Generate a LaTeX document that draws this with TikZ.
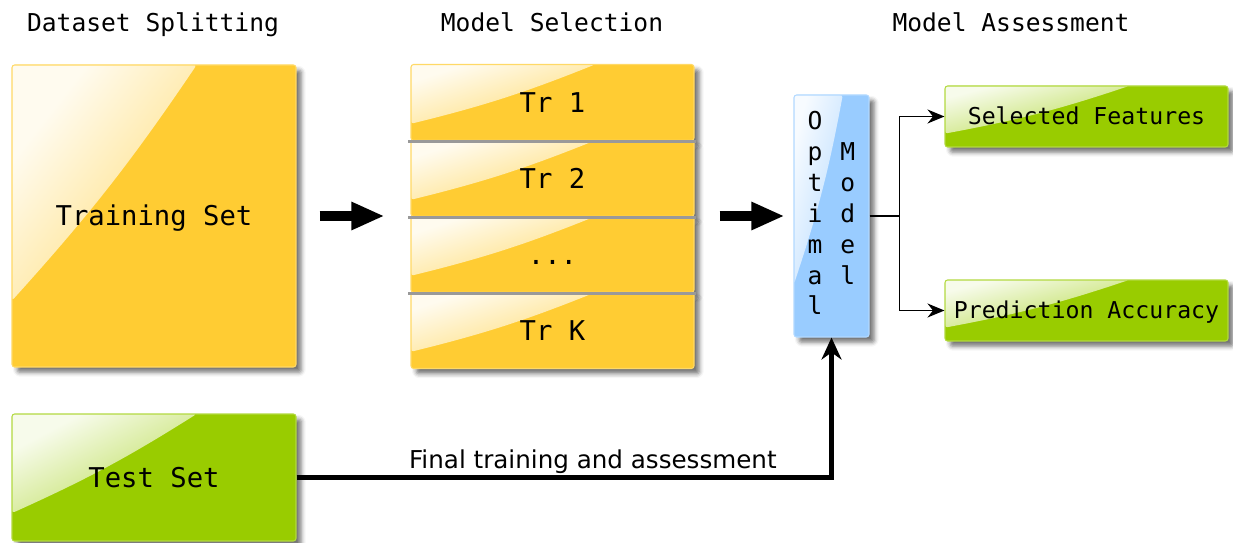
\documentclass[tikz,border=0pt]{standalone}
\usepackage{fontspec}
\setmainfont{DejaVu Sans}
\setsansfont{DejaVu Sans}
\setmonofont{DejaVu Sans Mono}
\usetikzlibrary{arrows.meta,calc,positioning,shadows.blur}
\definecolor{Gold}{HTML}{FFCC33}
\definecolor{Grass}{HTML}{99CC00}
\definecolor{Azure}{HTML}{99CCFF}
\definecolor{Rule}{HTML}{999999}

\tikzset{
  gloss/.style 2 args={path picture={
    \shade[top color=#1!8!white, middle color=#1!78!white, bottom color=#1, shading angle=#2]
      (path picture bounding box.north west)
      -- ($(path picture bounding box.north west)!0.65!(path picture bounding box.north east)$)
      to[bend left=4] ($(path picture bounding box.north west)!0.78!(path picture bounding box.south west)$)
      -- cycle;
  }},
  card/.style 2 args={draw=#1!75!white, fill=#1, line width=0.6pt, rounded corners=1.5pt,
    inner sep=0pt, gloss={#1}{#2},
    blur shadow={shadow xshift=3pt, shadow yshift=-3pt, shadow blur radius=2.5pt, shadow opacity=55}},
  setbox/.style 2 args={card={#1}{#2}, minimum width=5.68cm, text height=11.3pt, text depth=0pt,
    font=\ttfamily\fontsize{15.5}{18}\selectfont},
  foldbox/.style={card={Gold}{18}, minimum width=5.66cm, minimum height=1.52cm,
    text height=11.3pt, text depth=0pt, font=\ttfamily\fontsize{15.5}{18}\selectfont},
  outbox/.style={card={Grass}{14.5}, minimum width=5.66cm, minimum height=1.22cm,
    text height=9.6pt, text depth=0pt, font=\ttfamily\fontsize{13.2}{16}\selectfont},
  title/.style={anchor=base, font=\ttfamily\fontsize{14}{17}\selectfont},
  sepline/.style={Rule, line width=1.7pt},
  bigarrow/.style={line width=0.2cm, -{Triangle[length=0.66cm,width=0.52cm]}},
  link/.style={line width=0.85pt, -{Stealth[length=0.34cm,width=0.28cm]}},
}

\begin{document}
\begin{tikzpicture}[>=Latex]
  \useasboundingbox (0,0) rectangle (24.66,-10.86);

  \node[title] (tsplit) at (3.06,-0.64) {Dataset Splitting};
  \node[title] (tselect) at (11.04,-0.64) {Model Selection};
  \node[title] (tassess) at (20.22,-0.64) {Model Assessment};

  \node[setbox={Gold}{52}, minimum height=6.04cm] (train) at (3.08,-4.32) {Training Set};
  \node[setbox={Grass}{28}, minimum height=2.54cm] (test) at (3.08,-9.55) {Test Set};

  \foreach \i/\lbl in {1/Tr 1,2/Tr 2,3/.{}.{}.,4/Tr K} {
    \node[foldbox] (tr\i) at (11.05, -0.53-1.52*\i) {\lbl};
  }
  \foreach \i in {1,2,3}
    \draw[sepline] ([xshift=-0.04cm]tr\i.south west) -- ([xshift=0.02cm]tr\i.south east);

  \node[card={Azure}{75}, minimum width=1.5cm, minimum height=4.84cm,
        font=\ttfamily\fontsize{14}{17.6}\selectfont] (opt) at (16.63,-4.32) {%
    \raisebox{-0.06cm}{\begin{tabular}{@{}l@{\hspace{0.36cm}}l@{}}
      O & \\ p & M \\ t & o \\ i & d \\ m & e \\ a & l \\ l &
    \end{tabular}}};

  \node[outbox] (feat) at (21.73,-2.33) {Selected Features};
  \node[outbox] (acc) at (21.73,-6.21) {Prediction Accuracy};

  \draw[bigarrow] ([xshift=0.46cm]train.east) -- ([xshift=-0.52cm]train.east -| tr1.west);
  \draw[bigarrow] ([xshift=0.5cm]train.east -| tr1.east) -- ([xshift=-0.18cm]train.east -| opt.west);

  \draw[link] (opt.east) -- ++(0.6,0) coordinate (split) |- (feat.west);
  \draw[link] (split) |- (acc.west);

  \draw[line width=2.3pt, -{Stealth[length=0.44cm,width=0.4cm]}] (test.east) -|
    node[pos=0.277, above, inner sep=1pt, font=\sffamily\fontsize{14}{16}\selectfont] {Final training and assessment}
    (opt.south);
\end{tikzpicture}
\end{document}
